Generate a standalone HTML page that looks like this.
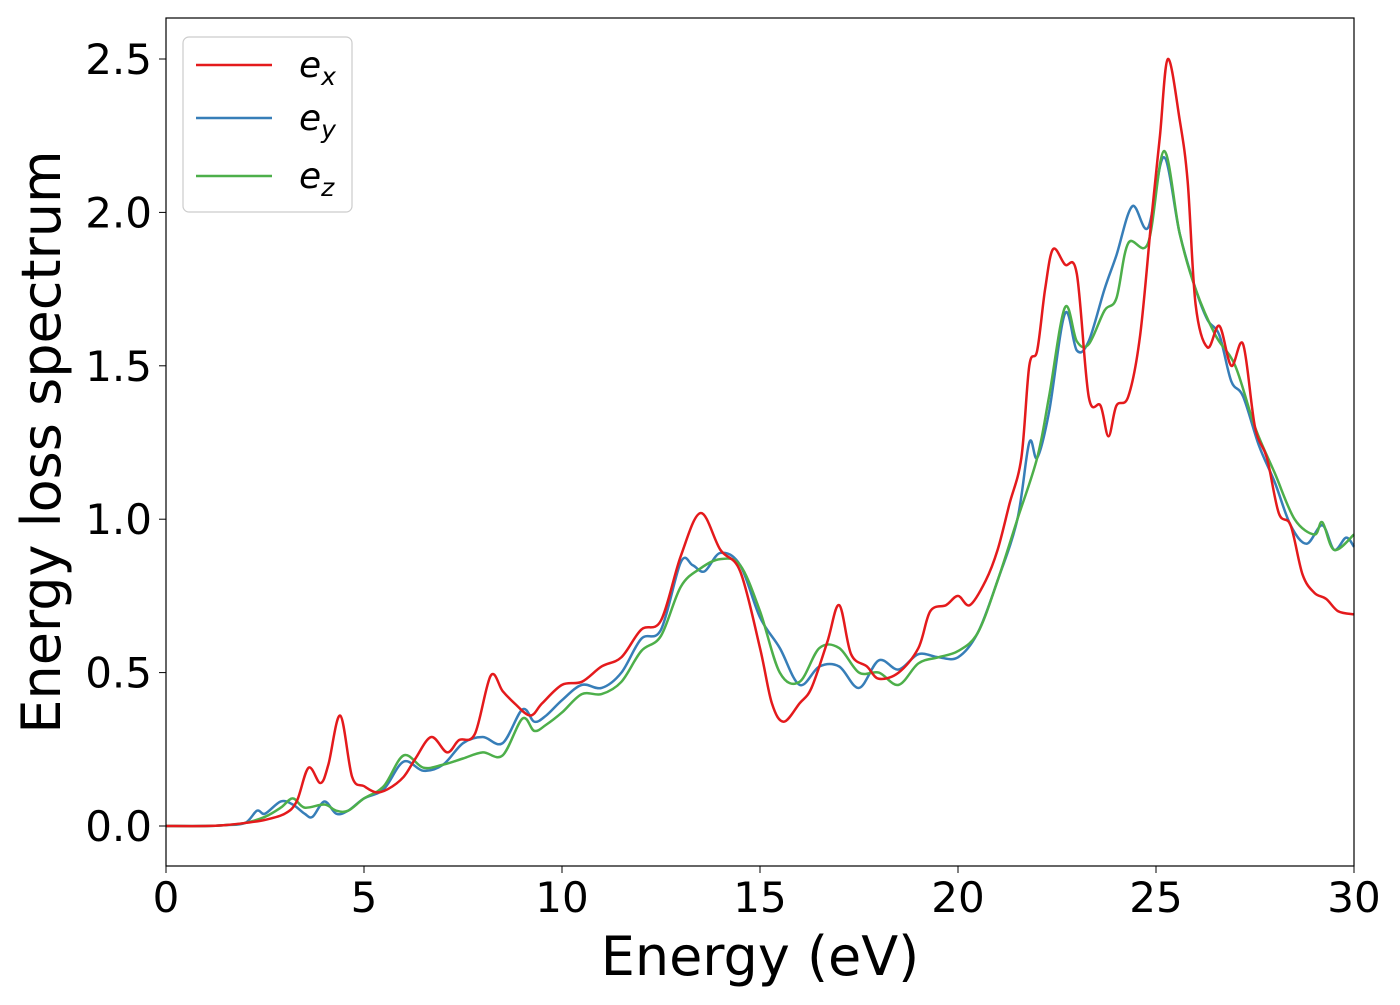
<!DOCTYPE html>
<html><head><meta charset="utf-8"><style>
body{margin:0;background:#fff;}
svg text{font-family:"DejaVu Sans","Liberation Sans",sans-serif;fill:#000;}
</style></head><body>
<svg id="chart" width="1400" height="1000" xmlns="http://www.w3.org/2000/svg">
<rect x="0" y="0" width="1400" height="1000" fill="#fff"/>
<g id="plot"></g>
<rect x="166" y="18" width="1188" height="848" fill="none" stroke="#000" stroke-width="1.2"/>
<g id="ticks"></g>
<text x="760" y="975" font-size="54" text-anchor="middle">Energy (eV)</text>
<text transform="translate(60,442) rotate(-90)" font-size="54" text-anchor="middle">Energy loss spectrum</text>
<g>
<rect x="183" y="37" width="169" height="175" rx="6" fill="#fff" stroke="#ccc" stroke-width="1.2"/>
<line x1="196" y1="65" x2="272" y2="65" stroke="#e41a1c" stroke-width="2.5"/>
<text x="299" y="77" font-size="36" font-style="italic">e<tspan font-size="25" dy="8">x</tspan></text>
<line x1="196" y1="118" x2="272" y2="118" stroke="#377eb8" stroke-width="2.5"/>
<text x="299" y="130" font-size="36" font-style="italic">e<tspan font-size="25" dy="8">y</tspan></text>
<line x1="196" y1="176" x2="272" y2="176" stroke="#4daf4a" stroke-width="2.5"/>
<text x="299" y="188" font-size="36" font-style="italic">e<tspan font-size="25" dy="8">z</tspan></text>
</g>
</svg>
<script>
const exX=[0,1,1.5,2,2.5,3,3.3,3.6,3.9,4.1,4.4,4.7,5,5.3,5.6,6,6.3,6.7,7.1,7.4,7.8,8.2,8.5,8.8,9.2,9.5,10,10.5,11,11.5,12,12.5,13,13.5,14,14.5,15,15.3,15.6,16,16.3,16.7,17,17.3,17.7,18,18.5,19,19.3,19.7,20,20.3,20.7,21,21.3,21.6,21.8,22,22.2,22.4,22.7,23,23.3,23.6,23.8,24,24.3,24.6,24.9,25.1,25.3,25.6,25.8,26,26.3,26.6,26.9,27.2,27.5,27.8,28.1,28.4,28.7,29,29.3,29.6,30];
const exY=[0,0,0.003,0.01,0.02,0.04,0.08,0.19,0.14,0.2,0.36,0.16,0.13,0.11,0.12,0.16,0.22,0.29,0.24,0.28,0.3,0.49,0.44,0.4,0.36,0.4,0.46,0.47,0.52,0.55,0.64,0.67,0.88,1.02,0.9,0.83,0.58,0.4,0.34,0.4,0.45,0.6,0.72,0.56,0.52,0.48,0.5,0.58,0.7,0.72,0.75,0.72,0.8,0.9,1.05,1.2,1.5,1.55,1.75,1.88,1.83,1.8,1.4,1.37,1.27,1.37,1.4,1.6,2.0,2.25,2.5,2.3,2.1,1.7,1.56,1.63,1.5,1.57,1.3,1.2,1.02,0.98,0.82,0.76,0.74,0.7,0.69];
const eyX=[0,1,1.5,2,2.3,2.5,2.9,3.2,3.5,3.7,4,4.3,4.6,5,5.5,6,6.5,7,7.5,8,8.5,9,9.3,9.6,10,10.5,11,11.5,12,12.5,13,13.3,13.6,14,14.5,15,15.5,16,16.5,17,17.5,18,18.5,19,19.5,20,20.5,21,21.5,21.8,22,22.3,22.7,23,23.3,23.7,24,24.4,24.8,25.2,25.6,26,26.3,26.6,26.9,27.2,27.6,28,28.4,28.8,29.2,29.5,29.8,30];
const eyY=[0,0,0.003,0.01,0.05,0.04,0.08,0.07,0.04,0.03,0.08,0.04,0.05,0.09,0.12,0.21,0.18,0.2,0.27,0.29,0.27,0.38,0.34,0.36,0.41,0.46,0.45,0.5,0.61,0.64,0.86,0.85,0.83,0.89,0.85,0.68,0.58,0.46,0.52,0.52,0.45,0.54,0.51,0.56,0.55,0.55,0.63,0.8,1.0,1.25,1.2,1.35,1.67,1.55,1.58,1.75,1.86,2.02,1.95,2.18,1.93,1.75,1.65,1.6,1.45,1.4,1.24,1.12,0.98,0.92,0.98,0.9,0.94,0.91];
const ezX=[0,1,1.5,2,2.5,2.9,3.2,3.5,4,4.3,4.6,5,5.5,6,6.5,7,7.5,8,8.5,9,9.3,9.6,10,10.5,11,11.5,12,12.5,13,13.5,14,14.5,15,15.5,16,16.5,17,17.5,18,18.5,19,19.5,20,20.5,21,21.5,22,22.3,22.7,23,23.3,23.7,24,24.3,24.8,25.2,25.6,26,26.5,27,27.5,28,28.5,29,29.2,29.5,30];
const ezY=[0,0,0.003,0.01,0.03,0.06,0.09,0.06,0.07,0.05,0.05,0.09,0.13,0.23,0.19,0.2,0.22,0.24,0.23,0.35,0.31,0.33,0.37,0.43,0.43,0.47,0.57,0.62,0.78,0.84,0.87,0.85,0.7,0.5,0.47,0.58,0.58,0.5,0.5,0.46,0.53,0.55,0.57,0.63,0.8,1.0,1.2,1.4,1.69,1.58,1.57,1.68,1.72,1.9,1.9,2.2,1.93,1.75,1.6,1.5,1.3,1.15,1.0,0.95,0.99,0.9,0.95];
const xTicks=[0,5,10,15,20,25,30];
const yTicks=[0,0.5,1.0,1.5,2.0,2.5];
const yTickLabels=["0.0","0.5","1.0","1.5","2.0","2.5"];
const NS='http://www.w3.org/2000/svg';
function sx(v){return 166+v*(1188/30);}
function sy(v){return 826-v*306.8;}
function smoothPath(xs,ys){
  const p=xs.map((x,i)=>[sx(x),sy(ys[i])]);
  let d='M'+p[0][0]+','+p[0][1];
  for(let i=0;i<p.length-1;i++){
    const p0=p[Math.max(0,i-1)],p1=p[i],p2=p[i+1],p3=p[Math.min(p.length-1,i+2)];
    const c1=[p1[0]+(p2[0]-p0[0])/6,p1[1]+(p2[1]-p0[1])/6];
    const c2=[p2[0]-(p3[0]-p1[0])/6,p2[1]-(p3[1]-p1[1])/6];
    d+=' C'+c1+' '+c2+' '+p2;
  }
  return d;
}
const plot=document.getElementById('plot');
[[eyX,eyY,'#377eb8','series-ey'],[ezX,ezY,'#4daf4a','series-ez'],[exX,exY,'#e41a1c','series-ex']].forEach(s=>{
  const el=document.createElementNS(NS,'path');
  el.setAttribute('d',smoothPath(s[0],s[1]));
  el.setAttribute('fill','none');el.setAttribute('stroke',s[2]);el.setAttribute('stroke-width','2.5');
  
  
  plot.appendChild(el);
});
const tk=document.getElementById('ticks');
xTicks.forEach(v=>{
  const l=document.createElementNS(NS,'line');
  l.setAttribute('x1',sx(v));l.setAttribute('x2',sx(v));l.setAttribute('y1',866);l.setAttribute('y2',873);l.setAttribute('stroke','#000');
  
  
  tk.appendChild(l);
  const t=document.createElementNS(NS,'text');
  t.setAttribute('x',sx(v));t.setAttribute('y',912);t.setAttribute('font-size','42');t.setAttribute('text-anchor','middle');
  t.textContent=v;
  
  
  tk.appendChild(t);
});
yTicks.forEach((v,i)=>{
  const l=document.createElementNS(NS,'line');
  l.setAttribute('x1',159);l.setAttribute('x2',166);l.setAttribute('y1',sy(v));l.setAttribute('y2',sy(v));l.setAttribute('stroke','#000');
  
  
  tk.appendChild(l);
  const t=document.createElementNS(NS,'text');
  t.setAttribute('x',152);t.setAttribute('y',sy(v)+15);t.setAttribute('font-size','42');t.setAttribute('text-anchor','end');
  t.textContent=yTickLabels[i];
  
  
  tk.appendChild(t);
});
</script>
</body></html>
